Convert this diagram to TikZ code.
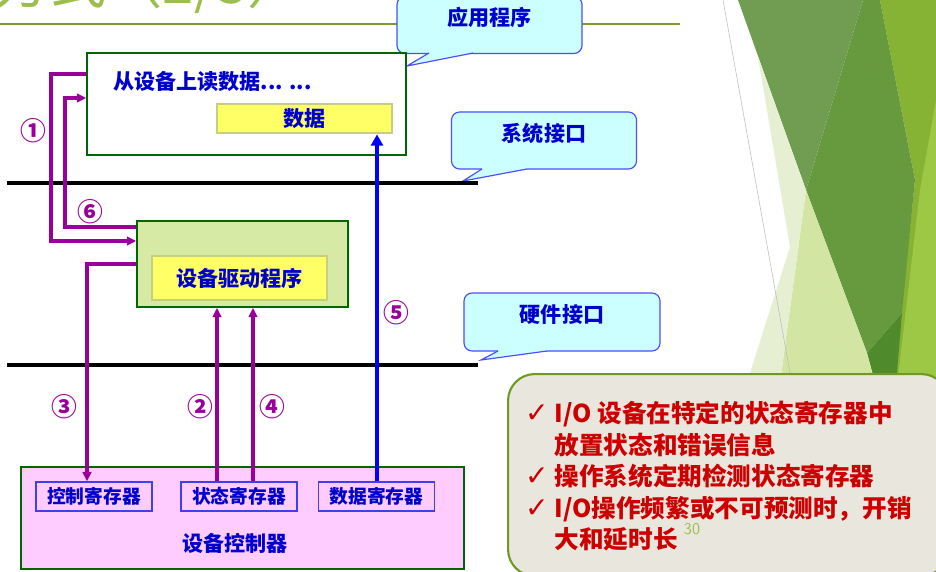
\documentclass[tikz,border=0pt]{standalone}
\usepackage{fontspec}
\newfontfamily\cjk{Noto Sans CJK SC}
\newfontfamily\checkfont{DejaVu Sans}
\usetikzlibrary{arrows.meta}

\definecolor{cframe}{HTML}{006600}
\definecolor{cflow}{HTML}{990099}
\definecolor{cdata}{HTML}{0000FF}
\definecolor{ctext}{HTML}{0000CC}
\definecolor{cbubble}{HTML}{CCFFFF}
\definecolor{cbubbleline}{HTML}{4D4DFF}
\definecolor{cyellow}{HTML}{FFFF66}
\definecolor{cyellowline}{HTML}{C5CF7E}
\definecolor{cdriver}{HTML}{D6EAA6}
\definecolor{cpink}{HTML}{FFCCFF}
\definecolor{creg}{HTML}{3F3FEE}
\definecolor{cnote}{HTML}{CC0000}
\definecolor{cnotebg}{HTML}{E9E7DD}
\definecolor{cnoteline}{HTML}{6E9A22}
\definecolor{ctitle}{HTML}{9BBE4E}
\definecolor{crule}{HTML}{7D9A2C}
\definecolor{bgA}{HTML}{709D52}
\definecolor{bgB}{HTML}{679A3F}
\definecolor{bgC}{HTML}{86B333}
\definecolor{bgD}{HTML}{9CC845}
\definecolor{bgE}{HTML}{4F8B2C}
\definecolor{bgF}{HTML}{D3E5A3}
\definecolor{bgG}{HTML}{E6EFD2}

\newcommand\pxl{0.03cm}
\newcommand\tick{{\checkfont\bfseries\fontsize{24}{27}\selectfont ✓}}

\tikzset{
  cnfont/.style={font=\cjk\bfseries\fontsize{18}{20}\selectfont, text=ctext},
  swbox/.style={draw=cframe, line width=1.4pt, inner sep=0pt},
  namebox/.style={cnfont, fill=cyellow, draw=cyellowline, line width=2.4pt, inner sep=0pt},
  regbox/.style={cnfont, font=\cjk\bfseries\fontsize{16}{18}\selectfont, draw=creg,
    line width=1.2pt, minimum width=116*\pxl, minimum height=29*\pxl, inner sep=0pt},
  bubble/.style={cnfont, fill=cbubble, draw=cbubbleline, line width=1pt, rounded corners=0.24cm,
    minimum width=185*\pxl, minimum height=57*\pxl, text depth=0.5cm},
  tailline/.style={draw=cbubbleline, line width=1pt},
  flowline/.style={draw=cflow, line width=2.6pt, -{Triangle[length=2.8mm,width=2.6mm]}},
  dataline/.style={draw=cdata, line width=3.2pt, -{Triangle[length=3.4mm,width=3.6mm]}},
  stepno/.style={font=\cjk\bfseries\fontsize{22}{23}\selectfont, text=cflow, inner sep=0pt},
  ifline/.style={draw=black, line width=2.8pt}
}

\begin{document}
\begin{tikzpicture}[x=\pxl, y=-\pxl]
\useasboundingbox (0,0) rectangle (936,572);
\clip (0,0) rectangle (936,572);

% background wedges on the right
\fill[bgC] (880,0) -- (936,0) -- (936,420) -- (890,420) -- (915,180) -- cycle;
\fill[bgD] (920,190) -- (936,100) -- (936,420) -- (893,420) -- cycle;
\fill[bgB] (806,190) -- (863,0) -- (880,0) -- (915,180) -- (902,313) -- (867,353) -- cycle;
\fill[bgA] (738,0) -- (863,0) -- (806,190) -- cycle;
\fill[bgE] (867,353) -- (902,313) -- (893,420) -- (885,420) -- cycle;
\fill[bgF] (806,190) -- (867,353) -- (885,420) -- (775,420) -- cycle;
\fill[bgG] (758,57) -- (806,190) -- (775,420) -- (735,420) -- (790,247) -- cycle;
\draw[black!25, line width=0.5pt] (723,0) -- (790,373);

% title
\draw[crule, line width=2.3pt] (0,24) -- (680,24);
\node[anchor=base west, inner sep=0pt, font=\cjk\fontsize{48}{50}\selectfont, text=ctitle] (title) at (-6,4) {方式（2/3）};

% bubbles
\node[bubble] (appbub) at (489.5,25) {应用程序};
\fill[cbubble] (429,51) -- (429,53) -- (407,66) -- (473,53) -- (473,51) -- cycle;
\draw[tailline] (429,53) -- (407,66) -- (473,53);
\node[bubble] (sysbub) at (544,140.5) {系统接口};
\fill[cbubble] (482,167) -- (482,169) -- (463,181) -- (527,169) -- (527,167) -- cycle;
\draw[tailline] (482,169) -- (463,181) -- (527,169);
\node[bubble, minimum width=196*\pxl, minimum height=58*\pxl] (hwbub) at (562,322) {硬件接口};
\fill[cbubble] (498,349) -- (498,351) -- (481,360) -- (547,351) -- (547,349) -- cycle;
\draw[tailline] (498,351) -- (481,360) -- (547,351);

% interfaces
\draw[ifline] (7,183) -- (478,183);
\draw[ifline] (7,365) -- (478,365);

% application
\node[swbox, fill=white, minimum width=319*\pxl, minimum height=102*\pxl] (app) at (246.5,104) {};
\node[cnfont, anchor=west, inner sep=0pt] (readtxt) at (113,82) {从设备上读数据... ...};
\node[namebox, minimum width=175*\pxl, minimum height=29*\pxl] (data) at (304.5,118.5) {数据};

% driver
\node[swbox, fill=cdriver, minimum width=211*\pxl, minimum height=86*\pxl] (drv) at (242.5,264) {};
\node[namebox, minimum width=175*\pxl, minimum height=44*\pxl] (drvname) at (239.5,278) {设备驱动程序};

% controller
\node[swbox, fill=cpink, minimum width=443*\pxl, minimum height=102*\pxl] (ctrl) at (242.5,518) {};
\node[regbox] (ctlreg) at (94,496.5) {控制寄存器};
\node[regbox] (stareg) at (239,496.5) {状态寄存器};
\node[regbox] (datreg) at (376.5,496.5) {数据寄存器};
\node[cnfont, inner sep=0pt] (ctrlname) at (235,543) {设备控制器};

% steps
\draw[flowline] (app.west |- 0,74) -| (51,241) -- (drv.west |- 0,241);
\draw[flowline] (stareg.north -| 217,0) -- (drv.south -| 217,0);
\draw[flowline] (drv.west |- 0,264) -| (ctlreg.north -| 87,0);
\draw[flowline] (stareg.north -| 253,0) -- (drv.south -| 253,0);
\draw[dataline] (datreg.north -| 377,0) -- (data.south -| 377,0);
\draw[flowline] (drv.west |- 0,227) -| (65,98) -- (app.west |- 0,98);

\node[stepno] (s1) at (33,131) {①};
\node[stepno] (s2) at (200,407) {②};
\node[stepno] (s3) at (64,407) {③};
\node[stepno] (s4) at (272,407) {④};
\node[stepno] (s5) at (396,313) {⑤};
\node[stepno] (s6) at (90,212) {⑥};

% notes
\node[draw=cnoteline, fill=cnotebg, line width=1.8pt, rounded corners=0.8cm, anchor=north west,
  minimum width=440*\pxl, minimum height=202*\pxl] (notebox) at (507,373) {};
\node[anchor=north west, inner sep=0pt, text=cnote, font=\cjk\bfseries\fontsize{21}{27}\selectfont] (notes) at (525,400) {%
  \begin{tabular}{@{}l@{\hspace{5pt}}l@{}}
  \tick & I/O 设备在特定的状态寄存器中\\
   & 放置状态和错误信息\\
  \tick & 操作系统定期检测状态寄存器\\
  \tick & I/O操作频繁或不可预测时，开销\\
   & 大和延时长
  \end{tabular}};
\node[text=ctitle, font=\sffamily\fontsize{14}{15}\selectfont, inner sep=0pt] (pageno) at (692,529) {30};
\end{tikzpicture}
\end{document}
